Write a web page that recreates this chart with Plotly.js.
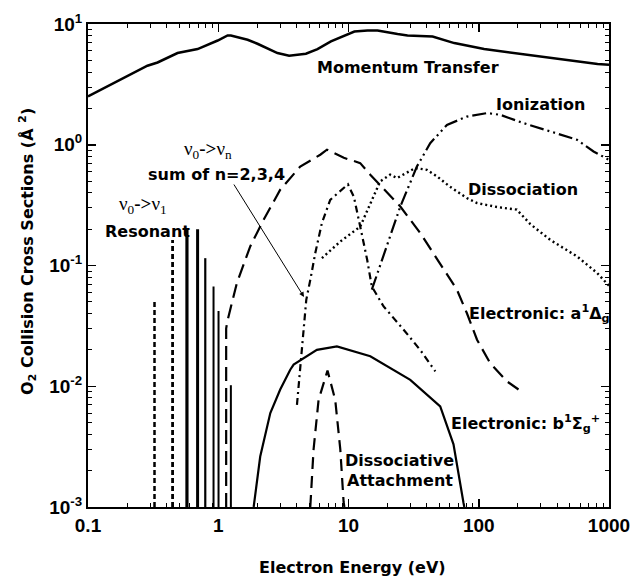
<!DOCTYPE html>
<html>
<head>
<meta charset="utf-8">
<script src="https://cdn.plot.ly/plotly-3.0.1.min.js"></script>
<style>html,body{margin:0;padding:0;background:#fff;}#chart{width:632px;height:577px;}</style>
</head>
<body>
<div id="chart"></div>
<script>
// ---- data ----
const momX = [0.1, 0.146, 0.286, 0.342, 0.487, 0.694, 0.99, 1.18, 1.25, 1.68, 2.0, 2.85, 3.5, 4.71, 5.78, 7.33, 11.1, 14, 16.7, 23.8, 28.4, 44.2, 64.9, 110, 300, 817, 1000];
const momY = [2.51, 3.1, 4.51, 4.8, 5.75, 6.2, 7.3, 8.04, 8.04, 7.4, 6.86, 5.75, 5.46, 5.67, 6.2, 7.17, 8.67, 8.85, 8.85, 8.26, 8.04, 7.88, 6.95, 6.2, 5.37, 4.66, 4.6];

const ionX = [15.1, 25, 33.5, 42.4, 57, 81, 116, 146, 221, 354, 568, 761, 1000];
const ionY = [0.063, 0.308, 0.66, 1.03, 1.46, 1.71, 1.83, 1.77, 1.51, 1.29, 1.1, 0.88, 0.75];

const dissX = [6.25, 8.65, 12.3, 15.6, 17.5, 20.9, 23.6, 32.5, 40, 47.8, 60, 81, 97, 138, 196, 249, 354, 568, 808, 1000];
const dissY = [0.115, 0.158, 0.21, 0.373, 0.497, 0.565, 0.53, 0.641, 0.62, 0.547, 0.45, 0.362, 0.329, 0.305, 0.29, 0.22, 0.163, 0.119, 0.087, 0.068];

const aX = [1.15, 1.15, 1.17, 1.39, 1.76, 2.23, 2.99, 4.26, 6.07, 6.83, 9.2, 12.3, 14.7, 25, 35.5, 68, 81, 97, 122, 164, 202];
const aY = [0.001, 0.03, 0.034, 0.0716, 0.144, 0.239, 0.424, 0.66, 0.827, 0.91, 0.78, 0.705, 0.565, 0.308, 0.186, 0.063, 0.0404, 0.0243, 0.0156, 0.011, 0.0094];

const bX = [1.87, 2.1, 2.51, 2.99, 3.57, 3.79, 5.72, 8.15, 14.7, 29.8, 50.6, 64, 76.4, 77.5];
const bY = [0.001, 0.00262, 0.006, 0.0094, 0.0137, 0.0151, 0.02, 0.0214, 0.0177, 0.0113, 0.0068, 0.0033, 0.00108, 0.001];

const daX = [5.09, 5.39, 5.89, 6.9, 7.91, 8.65, 9.17, 9.3];
const daY = [0.001, 0.00298, 0.0077, 0.0135, 0.0077, 0.003, 0.0011, 0.001];

const vnX = [4.02, 4.74, 5.09, 5.56, 6.25, 7.24, 9.9, 11, 12.3, 13.9, 15.1, 18.6, 26.5, 35.5, 46.4];
const vnY = [0.007, 0.052, 0.076, 0.127, 0.225, 0.35, 0.47, 0.37, 0.21, 0.112, 0.067, 0.0458, 0.0294, 0.02, 0.0133];

// v0->v1 resonant peaks (energy, peak cross section)
const resX = [0.324, 0.446, 0.575, 0.694, 0.795, 0.92, 1.005, 1.25];
const resY = [0.052, 0.163, 0.198, 0.2, 0.115, 0.067, 0.042, 0.0102];
const FLOOR = 0.001;

const xTickVals = [0.1, 1, 10, 100, 1000];
const xTickText = ['0.1', '1', '10', '100', '1000'];
const yTickVals = [0.001, 0.01, 0.1, 1, 10];
const yTickText = ['10<sup>-3</sup>', '10<sup>-2</sup>', '10<sup>-1</sup>', '10<sup>0</sup>', '10<sup>1</sup>'];

// ---- styles ----
const resStyles = [
  {dash: '5px,3px', width: 2.5},
  {dash: '5px,3px', width: 2.8},
  {dash: 'solid', width: 3.2},
  {dash: 'solid', width: 3},
  {dash: 'solid', width: 2.2},
  {dash: 'solid', width: 2},
  {dash: 'solid', width: 2},
  {dash: 'solid', width: 2}
];

function line(x, y, dash, width) {
  return {x: x, y: y, type: 'scatter', mode: 'lines', showlegend: false, hoverinfo: 'skip',
          line: {color: '#000', width: width, dash: dash}};
}

const traces = [
  line(momX, momY, 'solid', 2.5),
  line(ionX, ionY, '14px,4px,2px,4px,2px,4px', 2.2),
  line(dissX, dissY, '2px,3px', 2.4),
  line(aX, aY, '14px,7px', 2.2),
  line(bX, bY, 'solid', 2.2),
  line(daX, daY, '12px,7px', 2.2),
  line(vnX, vnY, '7px,4px,2px,4px', 2.2)
];
resX.forEach((rx, i) => {
  traces.push(line([rx, rx], [FLOOR, resY[i]], resStyles[i].dash, resStyles[i].width));
});

// minor tick positions (2..9 within every decade)
function minorVals(lo, hi) {
  const v = [];
  for (let e = lo; e < hi; e++) for (let k = 2; k <= 9; k++) v.push(k * Math.pow(10, e));
  return v;
}

// pixel -> paper helpers for label placement
const L = 88, R = 609, T = 24, B = 507;
const PX = p => (p - L) / (R - L);
const PY = p => (B - p) / (B - T);

const lblFont = {family: 'DejaVu Sans', size: 16, color: '#000'};
const serifFont = {family: 'Liberation Serif', size: 19, color: '#000'};
function lab(text, x, y, font, extra) {
  return Object.assign({text: text, xref: 'paper', yref: 'paper', x: PX(x), y: PY(y),
    xanchor: 'left', yanchor: 'middle', showarrow: false, font: font || lblFont}, extra || {});
}

const annotations = [
  lab('<b>Momentum Transfer</b>', 315, 67),
  lab('<b>Ionization</b>', 494, 104),
  lab('<b>Dissociation</b>', 466, 189),
  lab('<b>Electronic: a<sup>1</sup>Δ<sub>g</sub></b>', 467, 313),
  lab('<b>Electronic: b<sup>1</sup>Σ<sub>g</sub><sup>+</sup></b>', 449, 423),
  lab('<b>Dissociative</b>', 343, 460),
  lab('<b>Attachment</b>', 345, 480),
  lab('ν<sub>0</sub><b>-></b>ν<sub>n</sub>', 182, 150, serifFont),
  lab('<b>sum of n=2,3,4</b>', 146, 175),
  lab('ν<sub>0</sub><b>-></b>ν<sub>1</sub>', 117, 205, serifFont),
  lab('<b>Resonant</b>', 103, 232),
  {text: '', xref: 'paper', yref: 'paper', x: PX(304), y: PY(297), showarrow: true,
   ax: -71, ay: -114, arrowhead: 2, arrowsize: 1, arrowwidth: 1, arrowcolor: '#000'},
  {text: '<b>O<sub>2</sub> Collision Cross Sections (Å <sup>2</sup>)</b>', xref: 'paper', yref: 'paper',
   x: PX(27), y: PY(252), xanchor: 'center', yanchor: 'middle', textangle: -90, showarrow: false, font: lblFont},
  {text: '<b>Electron Energy (eV)</b>', xref: 'paper', yref: 'paper',
   x: PX(352), y: PY(567), xanchor: 'center', yanchor: 'middle', showarrow: false, font: lblFont}
];

const tickFont = {family: 'Liberation Sans', size: 19, color: '#000', weight: 'bold'};
const axisCommon = {
  type: 'log', showgrid: false, zeroline: false, showline: true, mirror: 'allticks',
  linecolor: '#000', linewidth: 2, ticks: 'inside', ticklen: 8, tickwidth: 1.5, tickcolor: '#000',
  tickmode: 'array', tickfont: tickFont
};

const layout = {
  width: 632, height: 577,
  margin: {l: L, r: 632 - R, t: T, b: 577 - B, pad: 0},
  paper_bgcolor: '#fff', plot_bgcolor: '#fff',
  showlegend: false,
  xaxis: Object.assign({}, axisCommon, {
    range: [-1, 3], tickvals: xTickVals, ticktext: xTickText,
    minor: {tickmode: 'array', tickvals: minorVals(-1, 3), ticks: 'inside', ticklen: 4, tickwidth: 1, tickcolor: '#000', showgrid: false}
  }),
  yaxis: Object.assign({}, axisCommon, {
    range: [-3, 1], tickvals: yTickVals, ticktext: yTickText,
    minor: {tickmode: 'array', tickvals: minorVals(-3, 1), ticks: 'inside', ticklen: 4, tickwidth: 1, tickcolor: '#000', showgrid: false}
  }),
  annotations: annotations
};

Plotly.newPlot('chart', traces, layout, {staticPlot: true, displayModeBar: false});
</script>
</body>
</html>
